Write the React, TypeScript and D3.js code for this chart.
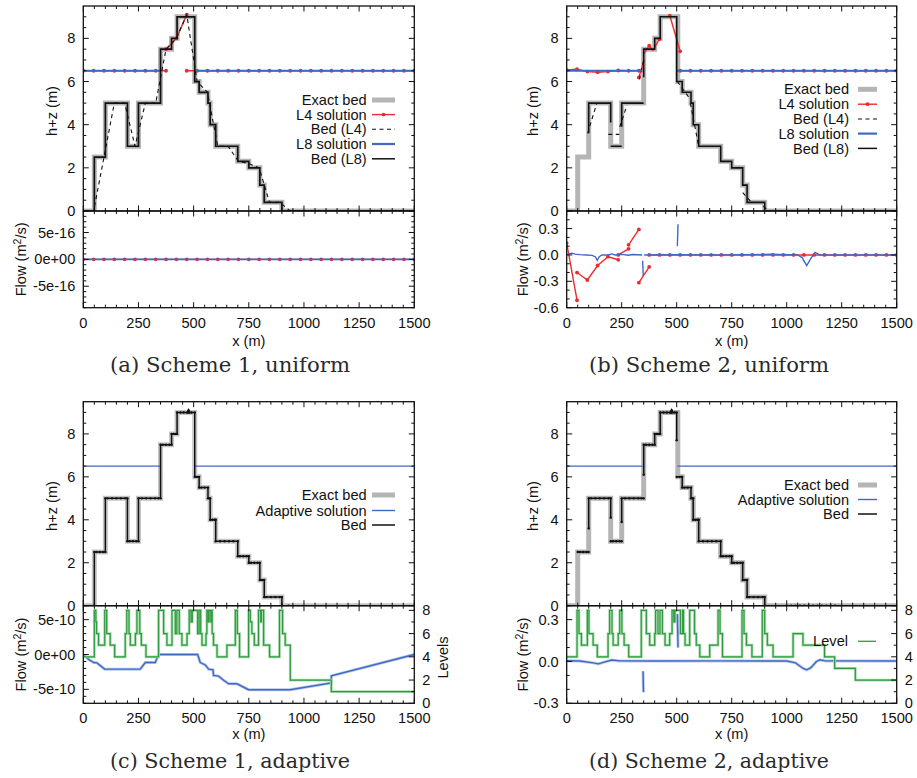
import React from "react";
import * as d3 from "d3";

type Pt = [number, number];

// ---------- shared axes ----------
const xTicks = [0, 250, 500, 750, 1000, 1250, 1500];
const xTickLabels = ["0", "250", "500", "750", "1000", "1250", "1500"];
const elevTicks = [0, 2, 4, 6, 8];
const levelTicks = [0, 2, 4, 6, 8];

// exact bed: step edges (m) and the height (m) held on each step
const bedEdges = [0, 50, 100, 200, 250, 350, 400, 425, 505, 525, 565, 575, 600, 700, 750, 800, 820, 900, 1500];
const bedHeights = [0, 2.5, 5, 3, 5, 7.5, 8, 9, 6, 5.5, 5, 4, 3, 2.3, 2, 1.2, 0.4, 0, 0];

// nodes of the level-4 uniform grid
const nodesL4 = [0, 46.9, 93.8, 140.6, 187.5, 234.4, 281.3, 328.1, 375, 421.9, 468.8, 515.6, 562.5, 609.4, 656.3, 703.1, 750,
  796.9, 843.8, 890.6, 937.5, 984.4, 1031.3, 1078.1, 1125, 1171.9, 1218.8, 1265.6, 1312.5, 1359.4, 1406.3, 1453.1, 1500];

// ---------- (a) scheme 1, uniform ----------
const bedL4A = [0, 0, 2.5, 5, 5, 3, 5, 5, 7.5, 8, 9.1, 6, 5.5, 3, 3, 2.3, 2.2, 2, 0.4, 0.4, 0, 0, 0, 0, 0, 0, 0, 0, 0, 0, 0, 0, 0];
const surfL4A: (number | null)[] = [6.5, 6.5, 6.5, 6.5, 6.5, 6.5, 6.5, 6.5, 6.5, null, 6.5, 6.5, 6.5, 6.5, 6.5, 6.5, 6.5,
  6.5, 6.5, 6.5, 6.5, 6.5, 6.5, 6.5, 6.5, 6.5, 6.5, 6.5, 6.5, 6.5, 6.5, 6.5, 6.5];
const surfL4DryA: Pt[] = [[375, 7.5], [421.9, 8], [468.8, 9.1]];
const surfL8A: Pt[][] = [[[0, 6.5], [350, 6.5]], [[505, 6.5], [1500, 6.5]]];
const flowL4A = [0, 0, 0, 0, 0, 0, 0, 0, 0, 0, 0, 0, 0, 0, 0, 0, 0, 0, 0, 0, 0, 0, 0, 0, 0, 0, 0, 0, 0, 0, 0, 0, 0];
const flowL8A: Pt[] = [[0, 0], [1500, 0]];
const flowTicksA = [-5e-16, 0, 5e-16];
const flowLabelsA = ["-5e-16", "0e+00", "5e-16"];

// ---------- (b) scheme 2, uniform ----------
const surfL4B: Pt[][] = [
  [[0, 6.54], [46.9, 6.57], [93.8, 6.46], [140.6, 6.43], [187.5, 6.46], [234.4, 6.51], [281.3, 6.5], [328.1, 6.5], [341, 6.5]],
  [[328.1, 6.19], [352, 7.0]],
  [[352, 7.3], [375, 7.66], [392, 7.45], [421.9, 7.97]],
  [[468.8, 9.05], [515.6, 7.4]],
];
const surfL4RightB = [6.5, 6.5, 6.5, 6.5, 6.5, 6.5, 6.5, 6.5, 6.5, 6.5, 6.5, 6.5, 6.5, 6.5, 6.5, 6.5, 6.5, 6.5, 6.5, 6.5, 6.5, 6.5];
const bedL4B: Pt[][] = [
  [[95, 3.6], [137, 5]],
  [[189, 3.55], [239, 3.55]],
  [[241, 3.9], [274, 4.9]],
  [[330, 6.1], [352, 7.1]],
  [[503, 6.0], [560, 5.2]],
  [[562, 5.0], [598, 3.1]],
  [[800, 0.85], [838, 0.42]],
  [[894, 0.23], [918, 0.0]],
];
const surfL8B: Pt[][] = [[[0, 6.5], [345, 6.5]], [[500, 6.5], [1500, 6.5]]];
const bedL8B: Pt[][] = [
  [[100, 3.6], [100, 5], [200, 5], [200, 4.1]],
  [[200, 3], [250, 3]],
  [[250, 3.9], [250, 5], [350, 5]],
  [[350, 6.2], [350, 7.5], [400, 7.5], [400, 8], [425, 8], [425, 9], [500, 9], [500, 6], [525, 6], [525, 5.5], [565, 5.5],
   [565, 5], [575, 5], [575, 4], [600, 4], [600, 3], [700, 3], [700, 2.3], [750, 2.3], [750, 2], [800, 2], [800, 1.2],
   [820, 1.2], [820, 0.4], [900, 0.4], [900, 0], [1500, 0]],
];
const flowL4B: Pt[][] = [
  [[0, 0.135], [46.9, -0.515]],
  [[46.9, -0.2], [93.8, -0.285], [140.6, -0.12], [187.5, -0.02], [234.4, -0.055]],
  [[234.4, 0.0], [281.3, 0.07]],
  [[281.3, 0.115], [328.1, 0.29]],
  [[328.1, -0.315], [375, -0.135]],
];
const flowL4RightB = [0, 0, 0, 0, 0, 0, 0, 0, 0, 0, 0, 0, 0, 0, 0, 0, 0, 0, 0, 0, 0, 0, 0, 0, 0];
const flowL8B: Pt[][] = [
  [[0, 0.0], [10, 0.012], [23, 0.02], [40, 0.01], [60, 0.004], [90, 0.0], [115, -0.005], [130, -0.02], [139, -0.06],
   [148, -0.02], [160, 0.0], [190, 0.0], [205, 0.012], [220, 0.0], [250, 0.006], [280, -0.004], [300, 0.005], [343, 0.0]],
  [[352, 0.0], [500, 0.003], [700, 0.0], [925, 0.008], [1050, 0.0], [1070, -0.03], [1091, -0.12], [1110, -0.04],
   [1129, 0.03], [1150, 0.0], [1500, 0.0]],
  [[345, -0.065], [348, -0.24]],
  [[503, 0.1], [506, 0.35]],
];
const flowTicksB = [-0.6, -0.3, 0, 0.3];
const flowLabelsB = ["-0.6", "-0.3", "0.0", "0.3"];

// ---------- (c) scheme 1, adaptive ----------
const surfAdaptC: Pt[][] = [[[0, 6.5], [350, 6.5]], [[505, 6.5], [1500, 6.5]]];
const bedAdaptC: Pt[] = [[0, 0], [50, 0], [50, 2.5], [100, 2.5], [100, 5], [200, 5], [200, 3], [250, 3], [250, 5], [350, 5],
  [350, 7.5], [400, 7.5], [400, 8], [425, 8], [425, 9], [474, 9], [477, 9.1], [480, 9], [505, 9], [505, 6], [525, 6],
  [525, 5.5], [565, 5.5], [565, 5], [575, 5], [575, 4], [600, 4], [600, 3], [700, 3], [700, 2.3], [750, 2.3], [750, 2],
  [800, 2], [800, 1.2], [820, 1.2], [820, 0.4], [900, 0.4], [900, 0], [1500, 0]];
const bedNodesC = [60, 75, 90, 110, 130, 150, 170, 190, 210, 225, 240, 265, 285, 305, 325, 340, 360, 375, 390, 410, 418,
  440, 455, 470, 490, 512, 520, 535, 550, 570, 585, 595, 620, 640, 660, 680, 710, 725, 740, 760, 775, 790, 810, 830,
  850, 870, 890, 930];
const flowAdaptC: Pt[] = [[0, 0], [24, -0.7e-10], [47, -1.15e-10], [62, -1.2e-10], [97, -2.1e-10], [258, -2.1e-10],
  [281, -1.15e-10], [326, -1.15e-10], [341, 0], [518, 0], [530, -1.15e-10], [553, -1.5e-10], [568, -2.1e-10],
  [588, -2.2e-10], [590, -3.0e-10], [613, -3.1e-10], [636, -3.7e-10], [659, -4.2e-10], [696, -4.2e-10], [749, -5.05e-10],
  [937, -5.05e-10], [1124, -4.08e-10], [1124, -3.06e-10], [1500, 0]];
const levelsC: Pt[] = [[0, 4], [50, 8], [57, 7], [60, 6], [69, 5], [97, 8], [106, 6], [122, 5], [142, 4], [190, 6], [197, 8],
  [207, 6], [213, 5], [236, 6], [243, 8], [256, 6], [263, 5], [284, 4], [341, 8], [364, 6], [379, 5], [402, 8], [417, 6],
  [424, 8], [435, 6], [447, 5], [470, 6], [480, 8], [488, 7], [494, 8], [518, 6], [525, 8], [532, 6], [538, 5], [556, 6],
  [560, 8], [566, 7], [570, 8], [578, 7], [580, 8], [584, 6], [590, 5], [606, 4], [651, 5], [689, 8], [698, 6], [708, 4],
  [749, 8], [757, 7], [764, 6], [775, 5], [794, 8], [804, 7], [807, 8], [817, 5], [844, 4], [889, 8], [903, 6], [915, 5],
  [938, 2], [1124, 1], [1500, 1]];
const flowTicksC = [-5e-10, 0, 5e-10];
const flowLabelsC = ["-5e-10", "0e+00", "5e-10"];

// ---------- (d) scheme 2, adaptive ----------
const surfAdaptD: Pt[][] = [[[0, 6.5], [345, 6.5]], [[503, 6.5], [1500, 6.5]]];
const bedAdaptD: Pt[][] = [
  [[50, 2.5], [100, 2.5]],
  [[100, 3.6], [100, 5], [200, 5], [200, 4.1]],
  [[200, 3], [250, 3]],
  [[250, 3.9], [250, 5], [350, 5]],
  [[350, 6.1], [350, 7.5], [400, 7.5], [400, 8], [425, 8], [425, 9], [474, 9], [477, 9.1], [480, 9], [500, 9], [500, 7.7]],
  [[500, 6], [525, 6], [525, 5.5], [565, 5.5], [565, 5], [575, 5], [575, 4], [600, 4], [600, 3], [700, 3], [700, 2.3],
   [750, 2.3], [750, 2], [800, 2], [800, 1.2], [820, 1.2], [820, 0.4], [900, 0.4], [900, 0], [1500, 0]],
];
const bedNodesD = [60, 75, 90, 110, 130, 150, 170, 190, 210, 225, 240, 265, 285, 305, 325, 340, 360, 375, 390, 410, 418,
  440, 455, 470, 490, 512, 520, 535, 550, 570, 585, 595, 620, 640, 660, 680, 710, 725, 740, 760, 775, 790, 810, 830, 850,
  870, 890, 1000, 1020, 1040, 1060, 1080, 1100, 1120, 1140, 1160, 1180, 1200, 1220];
const flowAdaptD: Pt[][] = [
  [[0, 0.005], [60, 0.003], [120, -0.01], [144, -0.017], [170, -0.005], [205, 0.01], [240, 0.004], [400, 0.003],
   [700, 0.004], [1000, 0.003], [1040, -0.01], [1075, -0.05], [1091, -0.06], [1110, -0.045], [1135, 0.0], [1152, 0.012],
   [1175, 0.004], [1500, 0.003]],
  [[347, -0.07], [349, -0.22]],
  [[503, 0.34], [506, 0.1]],
];
const levelsD: Pt[] = [[0, 4], [47, 8], [56, 6], [67, 5], [94, 8], [101, 6], [120, 5], [139, 4], [188, 6], [195, 8],
  [206, 6], [211, 5], [234, 6], [241, 8], [251, 6], [261, 5], [282, 4], [339, 8], [362, 6], [377, 5], [400, 6], [404, 8],
  [415, 6], [424, 8], [435, 6], [447, 5], [468, 6], [479, 8], [487, 7], [492, 8], [517, 6], [527, 8], [531, 6], [538, 5],
  [559, 8], [581, 6], [589, 5], [605, 4], [650, 5], [688, 8], [697, 6], [708, 4], [797, 8], [806, 6], [817, 5], [842, 4],
  [889, 8], [900, 6], [912, 5], [938, 4], [1029, 6], [1074, 5], [1172, 4], [1218, 3], [1312, 2], [1500, 2]];
const flowTicksD = [-0.3, 0, 0.3];
const flowLabelsD = ["-0.3", "0.0", "0.3"];

// ---------- styling ----------
const GRAY = "#b5b5b5";
const RED = "#ec2c2c";
const BLUE = "#4169c4";
const GREEN = "#2f9a40";
const INK = "#111";
const FONT = "'Liberation Sans', Arial, Helvetica, sans-serif";
const FS = 14.6;

const ROW1 = { top: 6, mid: 211, bottom: 307.7, tickY: 322.7, xTitleY: 341, captionY: 365.5, hzY: 111 };
const ROW2 = { top: 401.7, mid: 605.7, bottom: 703.3, tickY: 717.8, xTitleY: 734, captionY: 761, hzY: 506 };
const COL1 = { x0: 83.3, x1: 414.3, hzX: 52, flowX: 21, legRight: 366.7, sample: [372, 395], captionX: 230 };
const COL2 = { x0: 566.7, x1: 896.7, hzX: 532.5, flowX: 522.5, legRight: 849, sample: [858, 877], captionX: 709 };

interface Mark {
  segs: Pt[][];
  color: string;
  width: number;
  dash?: string;
  step?: boolean;
  dots?: Pt[];
  dotR?: number;
  halo?: string;
  levels?: boolean;
}
interface LegendItem { label: string; color: string; width: number; dash?: string; dot?: boolean; }

interface PanelCfg {
  id: string;
  col: typeof COL1;
  row: typeof ROW1;
  top: Mark[];
  bottom: Mark[];
  flowDomain: [number, number];
  flowTicks: number[];
  flowLabels: string[];
  flowMinor: number;
  hasLevels: boolean;
  levelsTitle: boolean;
  legend: LegendItem[];
  legendYs: number[];
  bottomLegend?: { item: LegendItem; y: number };
  caption: string;
}

// split node-aligned values into runs, breaking at null
function runs(xs: number[], vals: (number | null)[]): Pt[][] {
  const out: Pt[][] = [];
  let cur: Pt[] = [];
  vals.forEach((v, i) => {
    if (v === null) { if (cur.length) out.push(cur); cur = []; }
    else cur.push([xs[i], v]);
  });
  if (cur.length) out.push(cur);
  return out;
}

function bedAt(x: number): number {
  const i = d3.bisectRight(bedEdges, x) - 1;
  return bedHeights[Math.max(0, Math.min(i, bedHeights.length - 1))];
}

const exactBed: Pt[] = bedEdges.map((x, i) => [x, bedHeights[i]] as Pt);
const exactBedMark: Mark = { segs: [exactBed], color: GRAY, width: 5, step: true };

const l4Right = nodesL4.slice(11);
const l4RightFlow = nodesL4.slice(8);

const panelA: PanelCfg = {
  id: "a", col: COL1, row: ROW1,
  top: [
    exactBedMark,
    { segs: [...runs(nodesL4, surfL4A), surfL4DryA], color: RED, width: 1.4,
      dots: [...runs(nodesL4, surfL4A).flat(), ...surfL4DryA], dotR: 1.9 },
    { segs: [nodesL4.map((x, i) => [x, bedL4A[i]] as Pt)], color: INK, width: 1.1, dash: "4,3.5" },
    { segs: surfL8A, color: BLUE, width: 1.8 },
    { segs: [exactBed], color: INK, width: 1.7, step: true },
  ],
  bottom: [
    { segs: [nodesL4.map((x, i) => [x, flowL4A[i]] as Pt)], color: RED, width: 1.4,
      dots: nodesL4.map((x, i) => [x, flowL4A[i]] as Pt), dotR: 1.9 },
    { segs: [flowL8A], color: BLUE, width: 1.6 },
  ],
  flowDomain: [-9e-16, 9e-16], flowTicks: flowTicksA, flowLabels: flowLabelsA, flowMinor: 1e-16,
  hasLevels: false, levelsTitle: false,
  legend: [
    { label: "Exact bed", color: GRAY, width: 5 },
    { label: "L4 solution", color: RED, width: 1.4, dot: true },
    { label: "Bed (L4)", color: INK, width: 1.1, dash: "4,3.5" },
    { label: "L8 solution", color: BLUE, width: 2.2 },
    { label: "Bed (L8)", color: INK, width: 1.5 },
  ],
  legendYs: [100, 114.6, 129.3, 144, 158.8],
  caption: "(a) Scheme 1, uniform",
};

const surfL4RightPts: Pt[] = l4Right.map((x, i) => [x, surfL4RightB[i]] as Pt);
const flowL4RightPts: Pt[] = l4RightFlow.map((x, i) => [x, flowL4RightB[i]] as Pt);

const panelB: PanelCfg = {
  id: "b", col: COL2, row: ROW1,
  top: [
    exactBedMark,
    { segs: [...surfL4B, surfL4RightPts], color: RED, width: 1.4,
      dots: [...surfL4B.flat().filter(p => nodesL4.includes(p[0])), ...surfL4RightPts], dotR: 1.9 },
    { segs: bedL4B, color: INK, width: 1.1, dash: "4,3.5" },
    { segs: surfL8B, color: BLUE, width: 1.8 },
    { segs: bedL8B, color: INK, width: 1.6 },
  ],
  bottom: [
    { segs: [...flowL4B, flowL4RightPts], color: RED, width: 1.4,
      dots: [...flowL4B.flat(), ...flowL4RightPts], dotR: 1.9 },
    { segs: flowL8B, color: BLUE, width: 1.4 },
  ],
  flowDomain: [-0.6, 0.5], flowTicks: flowTicksB, flowLabels: flowLabelsB, flowMinor: 0.1,
  hasLevels: false, levelsTitle: false,
  legend: [
    { label: "Exact bed", color: GRAY, width: 5 },
    { label: "L4 solution", color: RED, width: 1.4, dot: true },
    { label: "Bed (L4)", color: INK, width: 1.1, dash: "4,3.5" },
    { label: "L8 solution", color: BLUE, width: 2.2 },
    { label: "Bed (L8)", color: INK, width: 1.5 },
  ],
  legendYs: [89.3, 104.2, 119, 133.6, 148.4],
  caption: "(b) Scheme 2, uniform",
};

const panelC: PanelCfg = {
  id: "c", col: COL1, row: ROW2,
  top: [
    { ...exactBedMark, color: "#c4c4c4" },
    { segs: surfAdaptC, color: BLUE, width: 1.3 },
    { segs: [bedAdaptC], color: INK, width: 1.5,
      dots: [...bedAdaptC, ...bedNodesC.map(x => [x, bedAt(x)] as Pt)], dotR: 1.2 },
  ],
  bottom: [
    { segs: [flowAdaptC], color: BLUE, width: 1.4, halo: "#b7c8ea" },
    { segs: [levelsC], color: GREEN, width: 1.2, step: true, levels: true, halo: "#a9dcae" },
  ],
  flowDomain: [-7e-10, 7e-10], flowTicks: flowTicksC, flowLabels: flowLabelsC, flowMinor: 1e-10,
  hasLevels: true, levelsTitle: true,
  legend: [
    { label: "Exact bed", color: GRAY, width: 5 },
    { label: "Adaptive solution", color: BLUE, width: 1.4 },
    { label: "Bed", color: INK, width: 1.5 },
  ],
  legendYs: [495, 510.5, 525],
  caption: "(c) Scheme 1, adaptive",
};

const panelD: PanelCfg = {
  id: "d", col: COL2, row: ROW2,
  top: [
    exactBedMark,
    { segs: surfAdaptD, color: BLUE, width: 1.3 },
    { segs: bedAdaptD, color: INK, width: 1.5,
      dots: [...bedAdaptD.flat(), ...bedNodesD.map(x => [x, bedAt(x)] as Pt)], dotR: 1.2 },
  ],
  bottom: [
    { segs: flowAdaptD, color: BLUE, width: 1.4, halo: "#b7c8ea" },
    { segs: [levelsD], color: GREEN, width: 1.2, step: true, levels: true, halo: "#a9dcae" },
  ],
  flowDomain: [-0.3, 0.4], flowTicks: flowTicksD, flowLabels: flowLabelsD, flowMinor: 0.1,
  hasLevels: true, levelsTitle: false,
  legend: [
    { label: "Exact bed", color: GRAY, width: 5 },
    { label: "Adaptive solution", color: BLUE, width: 1.4 },
    { label: "Bed", color: INK, width: 1.5 },
  ],
  legendYs: [485, 499.5, 514],
  bottomLegend: { item: { label: "Level", color: GREEN, width: 1.3 }, y: 641.3 },
  caption: "(d) Scheme 2, adaptive",
};

const MAJ = 5.5;
const MIN = 3;

function drawMarks(marks: Mark[], x: d3.ScaleLinear<number, number>, y: d3.ScaleLinear<number, number>,
  yl: d3.ScaleLinear<number, number>, key: string) {
  const out: React.ReactNode[] = [];
  marks.forEach((m, mi) => {
    const ys = m.levels ? yl : y;
    const gen = d3.line<Pt>().x(d => x(d[0])).y(d => ys(d[1]));
    if (m.step) gen.curve(d3.curveStepAfter);
    m.segs.forEach((s, si) => {
      const d = gen(s) || "";
      if (m.halo) out.push(<path key={`${key}h${mi}-${si}`} d={d} fill="none" stroke={m.halo} strokeWidth={m.width + 1.6} strokeLinejoin="miter" />);
      out.push(<path key={`${key}${mi}-${si}`} d={d} fill="none" stroke={m.color} strokeWidth={m.width}
        strokeDasharray={m.dash} strokeLinejoin="miter" strokeLinecap="butt" />);
    });
    (m.dots || []).forEach((p, pi) => {
      out.push(<circle key={`${key}d${mi}-${pi}`} cx={x(p[0])} cy={ys(p[1])} r={m.dotR || 1.5} fill={m.color} />);
    });
  });
  return out;
}

function Legend({ items, ys, right, sample }: { items: LegendItem[]; ys: number[]; right: number; sample: number[] }) {
  return (
    <g>
      {items.map((it, i) => (
        <g key={i}>
          <text x={right} y={ys[i]} dy="0.35em" textAnchor="end" fontSize={FS} fill={INK}>{it.label}</text>
          <line x1={sample[0]} x2={sample[1]} y1={ys[i]} y2={ys[i]} stroke={it.color} strokeWidth={it.width} strokeDasharray={it.dash} />
          {it.dot && <circle cx={(sample[0] + sample[1]) / 2} cy={ys[i]} r={1.9} fill={it.color} />}
        </g>
      ))}
    </g>
  );
}

function Panel({ p }: { p: PanelCfg }) {
  const { col, row } = p;
  const x = d3.scaleLinear().domain([0, 1500]).range([col.x0, col.x1]);
  const yT = d3.scaleLinear().domain([0, 9.5]).range([row.mid, row.top]);
  const yB = d3.scaleLinear().domain(p.flowDomain).range([row.bottom, row.mid]);
  const yL = d3.scaleLinear().domain([0, 8.4]).range([row.bottom, row.mid]);

  const xMinor = d3.range(50, 1500, 50).filter(v => v % 250 !== 0);
  const topMinor = d3.range(0.5, 9.5, 0.5).filter(v => v % 2 !== 0);
  const flowMinor = d3.range(Math.ceil(p.flowDomain[0] / p.flowMinor - 1e-6), Math.floor(p.flowDomain[1] / p.flowMinor + 1e-6) + 1)
    .map(k => k * p.flowMinor)
    .filter(v => !p.flowTicks.some(t => Math.abs(t - v) < p.flowMinor * 0.01));
  const levelMinor = [1, 3, 5, 7];

  const ticks: React.ReactNode[] = [];
  let k = 0;
  const L = (x1: number, y1: number, x2: number, y2: number) =>
    ticks.push(<line key={`t${k++}`} x1={x1} y1={y1} x2={x2} y2={y2} stroke={INK} strokeWidth={1} />);

  // x ticks: on every horizontal border, pointing into the panels
  xTicks.forEach(v => {
    const px = x(v);
    L(px, row.top, px, row.top + MAJ);
    L(px, row.mid, px, row.mid - MAJ);
    L(px, row.mid, px, row.mid + MAJ);
    L(px, row.bottom, px, row.bottom - MAJ);
  });
  xMinor.forEach(v => {
    const px = x(v);
    L(px, row.top, px, row.top + MIN);
    L(px, row.mid, px, row.mid - MIN);
    L(px, row.mid, px, row.mid + MIN);
    L(px, row.bottom, px, row.bottom - MIN);
  });
  // elevation ticks, mirrored
  elevTicks.forEach(v => { L(col.x0, yT(v), col.x0 + MAJ, yT(v)); L(col.x1, yT(v), col.x1 - MAJ, yT(v)); });
  topMinor.forEach(v => { L(col.x0, yT(v), col.x0 + MIN, yT(v)); L(col.x1, yT(v), col.x1 - MIN, yT(v)); });
  // flow ticks
  p.flowTicks.forEach(v => {
    L(col.x0, yB(v), col.x0 + MAJ, yB(v));
    if (!p.hasLevels) L(col.x1, yB(v), col.x1 - MAJ, yB(v));
  });
  flowMinor.forEach(v => {
    L(col.x0, yB(v), col.x0 + MIN, yB(v));
    if (!p.hasLevels) L(col.x1, yB(v), col.x1 - MIN, yB(v));
  });
  if (p.hasLevels) {
    levelTicks.forEach(v => L(col.x1, yL(v), col.x1 - MAJ, yL(v)));
    levelMinor.forEach(v => L(col.x1, yL(v), col.x1 - MIN, yL(v)));
  }

  const w = col.x1 - col.x0;
  const cx = (col.x0 + col.x1) / 2;
  const flowMid = (row.mid + row.bottom) / 2;

  return (
    <g>
      <defs>
        <clipPath id={`top-${p.id}`}><rect x={col.x0} y={row.top} width={w} height={row.mid - row.top} /></clipPath>
        <clipPath id={`bot-${p.id}`}><rect x={col.x0} y={row.mid} width={w} height={row.bottom - row.mid} /></clipPath>
      </defs>
      <g clipPath={`url(#top-${p.id})`}>{drawMarks(p.top, x, yT, yL, `top${p.id}`)}</g>
      <g clipPath={`url(#bot-${p.id})`}>{drawMarks(p.bottom, x, yB, yL, `bot${p.id}`)}</g>

      {ticks}
      <rect x={col.x0} y={row.top} width={w} height={row.mid - row.top} fill="none" stroke={INK} strokeWidth={1.3} />
      <rect x={col.x0} y={row.mid} width={w} height={row.bottom - row.mid} fill="none" stroke={INK} strokeWidth={1.3} />

      {/* tick labels */}
      {elevTicks.map(v => (
        <text key={`e${v}`} x={col.x0 - 8} y={yT(v)} dy="0.35em" textAnchor="end" fontSize={FS} fill={INK}>{v}</text>
      ))}
      {p.flowTicks.map((v, i) => (
        <text key={`f${i}`} x={col.x0 - 8} y={yB(v)} dy="0.35em" textAnchor="end" fontSize={FS} fill={INK}>{p.flowLabels[i]}</text>
      ))}
      {p.hasLevels && levelTicks.map(v => (
        <text key={`l${v}`} x={col.x1 + 8} y={yL(v)} dy="0.35em" textAnchor="start" fontSize={FS} fill={INK}>{v}</text>
      ))}
      {xTicks.map((v, i) => (
        <text key={`x${v}`} x={x(v)} y={row.tickY} dy="0.35em" textAnchor="middle" fontSize={FS} fill={INK}>{xTickLabels[i]}</text>
      ))}

      {/* axis titles */}
      <text x={cx} y={row.xTitleY} dy="0.35em" textAnchor="middle" fontSize={FS} fill={INK}>x (m)</text>
      <text transform={`translate(${col.hzX},${row.hzY}) rotate(-90)`} dy="0.35em" textAnchor="middle" fontSize={FS} fill={INK}>h+z (m)</text>
      <text transform={`translate(${col.flowX},${flowMid}) rotate(-90)`} dy="0.35em" textAnchor="middle" fontSize={FS} fill={INK}>
        Flow (m<tspan dy="-5" fontSize={10.5}>2</tspan><tspan dy="5">/s)</tspan>
      </text>
      {p.levelsTitle && (
        <text transform={`translate(${col.x1 + 29},${flowMid + 3}) rotate(-90)`} dy="0.35em" textAnchor="middle" fontSize={FS} fill={INK}>Levels</text>
      )}

      <Legend items={p.legend} ys={p.legendYs} right={col.legRight} sample={col.sample} />
      {p.bottomLegend && (
        <Legend items={[p.bottomLegend.item]} ys={[p.bottomLegend.y]} right={col.legRight - 1} sample={[col.sample[0], col.sample[1] - 1]} />
      )}

      <text x={col.captionX} y={row.captionY} dy="0.35em" textAnchor="middle" fontSize={19.5}
        fontFamily="'DejaVu Serif', 'Liberation Serif', serif" fill="#2a2a2a" textLength={240} lengthAdjust="spacingAndGlyphs">
        {p.caption}
      </text>
    </g>
  );
}

export default function App() {
  return (
    <svg width={917} height={778} viewBox="0 0 917 778" fontFamily={FONT}
      style={{ position: "absolute", left: 0, top: 0, background: "#fff" }}>
      <rect width={917} height={778} fill="#fff" />
      <Panel p={panelA} />
      <Panel p={panelB} />
      <Panel p={panelC} />
      <Panel p={panelD} />
    </svg>
  );
}
